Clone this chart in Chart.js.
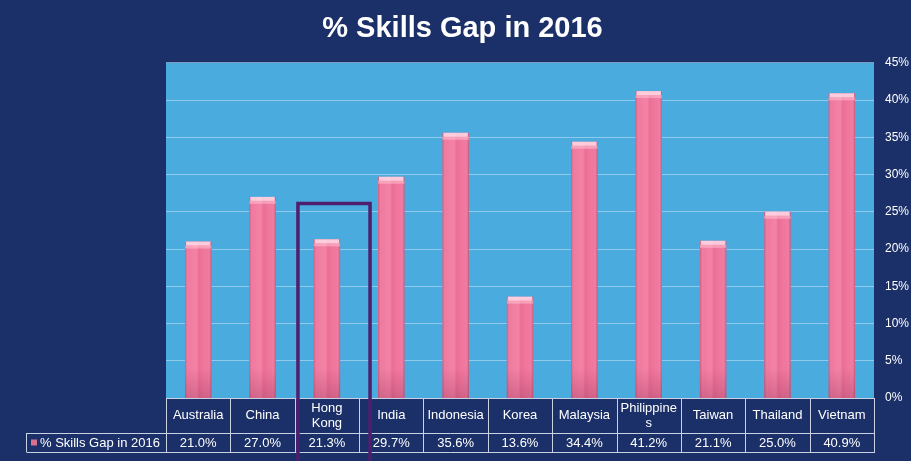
<!DOCTYPE html>
<html>
<head>
<meta charset="utf-8">
<script src="https://cdn.jsdelivr.net/npm/chart.js@4/dist/chart.umd.min.js"></script>
<style>
  html, body { margin: 0; padding: 0; background: #1b3068; }
  #wrap { width: 911px; height: 461px; }
</style>
</head>
<body>
<div id="wrap"><canvas id="chart"></canvas></div>
<script>
let navy = '#1b3068';
let skyBlue = '#4aabdf';
let pink = '#f0739a';
let tableLine = '#c9d1e3';
let purple = '#4e1f6e';

let seriesName = '% Skills Gap in 2016';
let countries = ['Australia', 'China', ['Hong', 'Kong'], 'India', 'Indonesia', 'Korea',
  'Malaysia', ['Philippine', 's'], 'Taiwan', 'Thailand', 'Vietnam'];
let skillsGap = [21.0, 27.0, 21.3, 29.7, 35.6, 13.6, 34.4, 41.2, 21.1, 25.0, 40.9];

// the highlight box round Hong Kong
let highlightIndex = 2;
let highlightTop = 26.1;

let font = 'Arial, "Liberation Sans", sans-serif';

// cylinder look: shade each bar across its width and add a light cap
let cylinderBars = {
  id: 'cylinderBars',
  afterDatasetsDraw(chart) {
    let ctx = chart.ctx;
    let meta = chart.getDatasetMeta(0);
    meta.data.forEach(bar => {
      let left = bar.x - bar.width / 2;
      let top = bar.y;
      let h = bar.base - bar.y;
      let g = ctx.createLinearGradient(left, 0, left + bar.width, 0);
      g.addColorStop(0, 'rgba(150,40,80,0.35)');
      g.addColorStop(0.15, 'rgba(255,255,255,0.05)');
      g.addColorStop(0.45, 'rgba(255,200,220,0.18)');
      g.addColorStop(0.55, 'rgba(200,60,100,0.10)');
      g.addColorStop(0.85, 'rgba(255,255,255,0.03)');
      g.addColorStop(1, 'rgba(150,40,80,0.4)');
      ctx.save();
      ctx.fillStyle = g;
      ctx.fillRect(left, top, bar.width, h);
      let v = ctx.createLinearGradient(0, bar.base - 30, 0, bar.base);
      v.addColorStop(0, 'rgba(120,30,70,0)');
      v.addColorStop(1, 'rgba(120,30,70,0.25)');
      ctx.fillStyle = v;
      ctx.fillRect(left, bar.base - 30, bar.width, 30);
      ctx.fillStyle = 'rgba(255,225,235,0.8)';
      ctx.fillRect(left + 1, top, bar.width - 2, 4);
      ctx.fillStyle = 'rgba(255,200,215,0.5)';
      ctx.fillRect(left, top + 4, bar.width, 3);
      ctx.restore();
    });
  }
};

// data table under the plot
let dataTable = {
  id: 'dataTable',
  afterDraw(chart) {
    let ctx = chart.ctx;
    let x = chart.scales.x;
    let area = chart.chartArea;
    let step = (area.right - area.left) / countries.length;
    let row1 = area.bottom + 35;
    let row2 = row1 + 19;
    let legendLeft = 26;

    ctx.save();
    ctx.strokeStyle = tableLine;
    ctx.lineWidth = 1;
    ctx.beginPath();
    ctx.moveTo(area.left + 0.5, area.bottom);
    ctx.lineTo(area.left + 0.5, row2);
    for (let i = 0; i < countries.length; i++) {
      let r = Math.round(x.getPixelForValue(i) + step / 2) + 0.5;
      ctx.moveTo(r, area.bottom);
      ctx.lineTo(r, row2);
    }
    ctx.moveTo(area.left, area.bottom + 0.5);
    ctx.lineTo(area.right, area.bottom + 0.5);
    ctx.moveTo(legendLeft + 0.5, row1 + 0.5);
    ctx.lineTo(area.right + 1, row1 + 0.5);
    ctx.moveTo(legendLeft + 0.5, row2 + 0.5);
    ctx.lineTo(area.right + 1, row2 + 0.5);
    ctx.moveTo(legendLeft + 0.5, row1);
    ctx.lineTo(legendLeft + 0.5, row2);
    ctx.stroke();

    ctx.fillStyle = '#ffffff';
    ctx.font = '13px ' + font;
    ctx.textAlign = 'center';
    ctx.textBaseline = 'middle';
    countries.forEach((name, i) => {
      let cx = x.getPixelForValue(i);
      let mid = (area.bottom + row1) / 2;
      if (Array.isArray(name)) {
        ctx.fillText(name[0], cx, mid - 7);
        ctx.fillText(name[1], cx, mid + 8);
      } else {
        ctx.fillText(name, cx, mid);
      }
      ctx.fillText(skillsGap[i].toFixed(1) + '%', cx, (row1 + row2) / 2 + 1);
    });

    // legend key
    let ky = (row1 + row2) / 2;
    ctx.fillStyle = '#d9708f';
    ctx.fillRect(legendLeft + 5, ky - 3, 6, 6);
    ctx.textAlign = 'left';
    ctx.fillStyle = '#ffffff';
    ctx.fillText(seriesName, legendLeft + 14, ky + 1);

    // highlight box
    let y = chart.scales.y;
    let hx = x.getPixelForValue(highlightIndex);
    ctx.strokeStyle = purple;
    ctx.lineWidth = 3.5;
    ctx.beginPath();
    ctx.moveTo(hx - step * 0.45, chart.height + 5);
    ctx.lineTo(hx - step * 0.45, y.getPixelForValue(highlightTop));
    ctx.lineTo(hx + step * 0.67, y.getPixelForValue(highlightTop));
    ctx.lineTo(hx + step * 0.67, chart.height + 5);
    ctx.stroke();
    ctx.restore();
  }
};

let plotBackground = {
  id: 'plotBackground',
  beforeDraw(chart) {
    let a = chart.chartArea;
    chart.ctx.save();
    chart.ctx.fillStyle = navy;
    chart.ctx.fillRect(0, 0, chart.width, chart.height);
    chart.ctx.fillStyle = skyBlue;
    chart.ctx.fillRect(a.left, a.top, a.right - a.left, a.bottom - a.top);
    chart.ctx.restore();
  }
};

new Chart('chart', {
  type: 'bar',
  data: {
    labels: countries,
    datasets: [{
      label: seriesName,
      data: skillsGap,
      backgroundColor: pink,
      barPercentage: 0.41,
      categoryPercentage: 1
    }]
  },
  options: {
    responsive: true,
    maintainAspectRatio: false,
    animation: false,
    layout: { padding: { left: 14, right: 0, top: 0, bottom: 0 } },
    scales: {
      x: {
        grid: { display: false },
        border: { display: false },
        ticks: { display: false },
        afterFit: s => { s.height = 63; }
      },
      yLeft: {
        position: 'left',
        display: true,
        grid: { display: false },
        border: { display: false },
        ticks: { display: false },
        afterFit: s => { s.width = 152; }
      },
      y: {
        position: 'right',
        min: 0,
        max: 45,
        ticks: {
          stepSize: 5,
          color: '#ffffff',
          padding: 11,
          font: { size: 12, family: font },
          callback: v => v + '%'
        },
        grid: { color: 'rgba(200,225,245,0.55)', lineWidth: 1, drawTicks: false },
        border: { display: false },
        afterFit: s => { s.width = 37; }
      }
    },
    plugins: {
      legend: { display: false },
      tooltip: { enabled: false },
      title: {
        display: true,
        text: '% Skills Gap in 2016',
        color: '#ffffff',
        font: { size: 29, weight: 'bold', family: font },
        padding: { top: 12, bottom: 16 }
      }
    }
  },
  plugins: [plotBackground, cylinderBars, dataTable]
});
</script>
</body>
</html>
